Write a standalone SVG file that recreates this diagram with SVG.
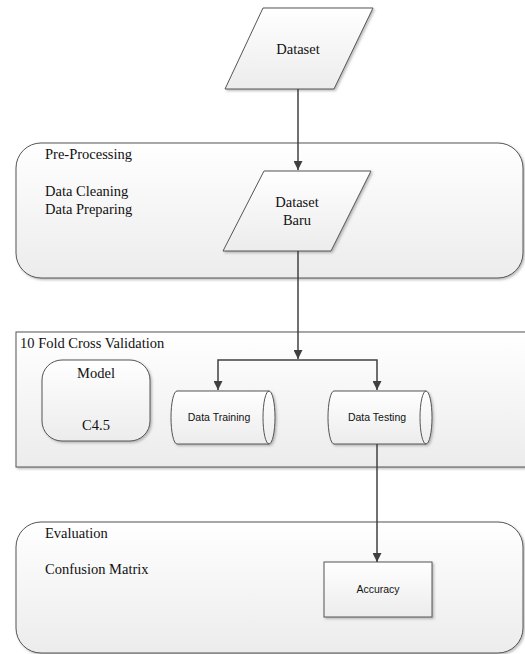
<svg xmlns="http://www.w3.org/2000/svg" width="525" height="654" viewBox="0 0 525 654">
  <defs>
    <linearGradient id="g" x1="0" y1="0" x2="0" y2="1">
      <stop offset="0" stop-color="#ffffff"/>
      <stop offset="1" stop-color="#ececec"/>
    </linearGradient>
    <filter id="sh" x="-5%" y="-5%" width="115%" height="120%">
      <feDropShadow dx="1.5" dy="1.5" stdDeviation="1" flood-color="#777" flood-opacity="0.5"/>
    </filter>
    <marker id="arr" viewBox="0 0 10 10" refX="10" refY="5" markerWidth="9" markerHeight="9" markerUnits="userSpaceOnUse" orient="auto">
      <path d="M0,0 L10,5 L0,10 Z" fill="#404040"/>
    </marker>
  </defs>
  <style>
    .box { fill: url(#g); stroke: #555; stroke-width: 1; filter: url(#sh); }
    .ser { font-family: "Liberation Serif", "Times New Roman", serif; font-size: 14.5px; fill: #111; }
    .sans { font-family: "Liberation Sans", Arial, sans-serif; font-size: 10.5px; fill: #111; }
    .mid { text-anchor: middle; }
    .conn { fill: none; stroke: #404040; stroke-width: 1.5; }
  </style>

  <g id="preprocessing">
    <rect class="box" x="16" y="143" width="507" height="135" rx="25" ry="25"/>
    <text class="ser" x="45" y="159">Pre-Processing</text>
    <text class="ser" x="45" y="196">Data Cleaning</text>
    <text class="ser" x="45" y="214">Data Preparing</text>
  </g>

  <g id="crossvalidation">
    <rect class="box" x="16" y="332" width="520" height="135"/>
    <text class="ser" x="20" y="348">10 Fold Cross Validation</text>
  </g>

  <g id="evaluation">
    <rect class="box" x="16" y="522" width="507" height="131" rx="25" ry="25"/>
    <text class="ser" x="45" y="538">Evaluation</text>
    <text class="ser" x="45" y="574">Confusion Matrix</text>
  </g>

  <g id="dataset">
    <polygon class="box" points="263,8 373,8 334,89 225,89"/>
    <text class="ser mid" x="298" y="54">Dataset</text>
  </g>

  <g id="datasetbaru">
    <polygon class="box" points="264,171 371,171 331,251 223,251"/>
    <text class="ser mid" x="297" y="207">Dataset</text>
    <text class="ser mid" x="297" y="225">Baru</text>
  </g>

  <g id="model">
    <rect class="box" x="42" y="360" width="108" height="81" rx="20" ry="20"/>
    <text class="ser mid" x="96" y="378">Model</text>
    <text class="ser mid" x="96" y="430">C4.5</text>
  </g>

  <g id="datatraining">
    <path class="box" d="M177,391 L269,391 A6,26.5 0 0 1 269,444 L177,444 A6,26.5 0 0 1 177,391 Z"/>
    <path d="M269,391 A6,26.5 0 0 0 269,444" fill="none" stroke="#555" stroke-width="1"/>
    <text class="sans mid" x="219" y="421">Data Training</text>
  </g>

  <g id="datatesting">
    <path class="box" d="M334,391 L426,391 A6,26.5 0 0 1 426,444 L334,444 A6,26.5 0 0 1 334,391 Z"/>
    <path d="M426,391 A6,26.5 0 0 0 426,444" fill="none" stroke="#555" stroke-width="1"/>
    <text class="sans mid" x="377" y="421">Data Testing</text>
  </g>

  <g id="accuracy">
    <rect class="box" x="324" y="562" width="108" height="55"/>
    <text class="sans mid" x="378" y="593">Accuracy</text>
  </g>

  <g id="connectors">
    <path class="conn" d="M298,89 V170" marker-end="url(#arr)"/>
    <path class="conn" d="M298,251 V359" marker-end="url(#arr)"/>
    <path class="conn" d="M298,360 H218 V390" marker-end="url(#arr)"/>
    <path class="conn" d="M298,360 H377 V390" marker-end="url(#arr)"/>
    <path class="conn" d="M377,444 V562" marker-end="url(#arr)"/>
  </g>
</svg>
